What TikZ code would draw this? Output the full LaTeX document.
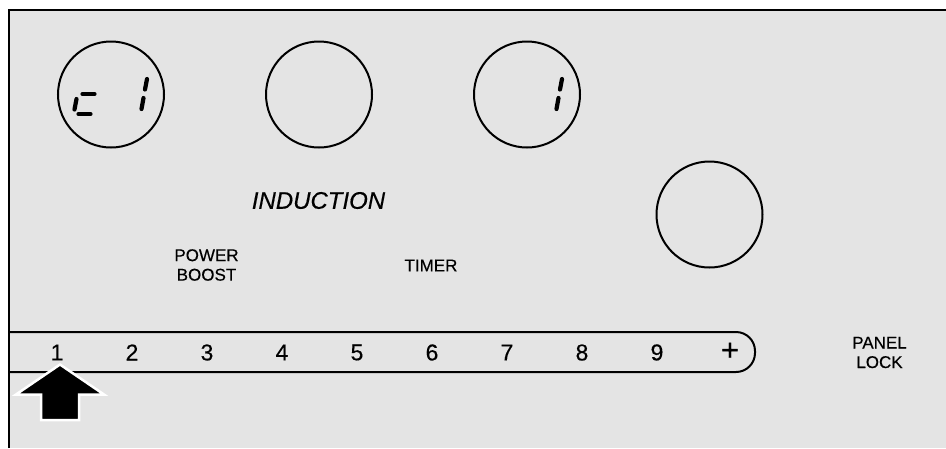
\documentclass[tikz,border=0pt]{standalone}
\usepackage{fontspec}
\setmainfont{Liberation Sans}[FakeBold=0.35]
\begin{document}
\begin{tikzpicture}[x=1pt,y=-1pt,
  line/.style={draw=black,line width=2pt},
  dial/.style={circle,draw=black,line width=2pt,minimum size=106pt,inner sep=0pt},
  seg/.style={draw=black,line width=4.2pt,line cap=round},
  lbl/.style={inner sep=0pt,align=center,font=\fontsize{17}{19.5}\selectfont},
  num/.style={inner sep=0pt,font=\fontsize{23}{26}\selectfont}]
\useasboundingbox (0,0) rectangle (946,448);
\fill[white] (0,0) rectangle (946,448);
\fill[fill={rgb,255:red,228;green,228;blue,228}] (9,9.5) rectangle (946,448);
\draw[line] (9,448) -- (9,9.5) -- (946,9.5);
% dials
\node[dial] (d1) at (111,94.5) {};
\node[dial] (d2) at (319,94.5) {};
\node[dial] (d3) at (527,94.5) {};
\node[dial] (d4) at (709.5,214.5) {};
% digits in d1: c 1
\draw[seg] (82.5,94) -- (94.5,94);
\draw[seg] (76.5,99) -- (74.5,109.5);
\draw[seg] (78.5,114) -- (90.5,114);
\draw[seg] (147,79) -- (145,89.5);
\draw[seg] (143.5,98) -- (141.5,109);
% digit in d3: 1
\draw[seg] (562,79) -- (560,89.5);
\draw[seg] (558.5,98) -- (556.5,109);
% labels
\node[inner sep=0pt,font=\fontsize{24}{28}\selectfont\itshape] (ind) at (318.5,200.5) {INDUCTION};
\node[lbl] (pb) at (206.5,265) {POWER\\BOOST};
\node[lbl] (tm) at (431,265.5) {TIMER};
\node[lbl] (pl) at (879.5,352.5) {PANEL\\LOCK};
% slider bar
\draw[line,rounded corners=19pt] (9,332) -- (755,332) -- (755,372) -- (9,372);
\foreach \i in {1,...,9} {
  \node[num] (n\i) at ({57+75*(\i-1)},352.5) {\i};
}
\node[inner sep=0pt,font=\fontsize{31}{34}\selectfont] (np) at (730,351.5) {+};
% arrow
\draw[fill=black,draw=white,line width=2.5pt,line join=miter]
  (60,364.5) -- (104,394.5) -- (79,394.5) -- (79,420) -- (41,420) -- (41,394.5) -- (16,394.5) -- cycle;
\end{tikzpicture}
\end{document}
